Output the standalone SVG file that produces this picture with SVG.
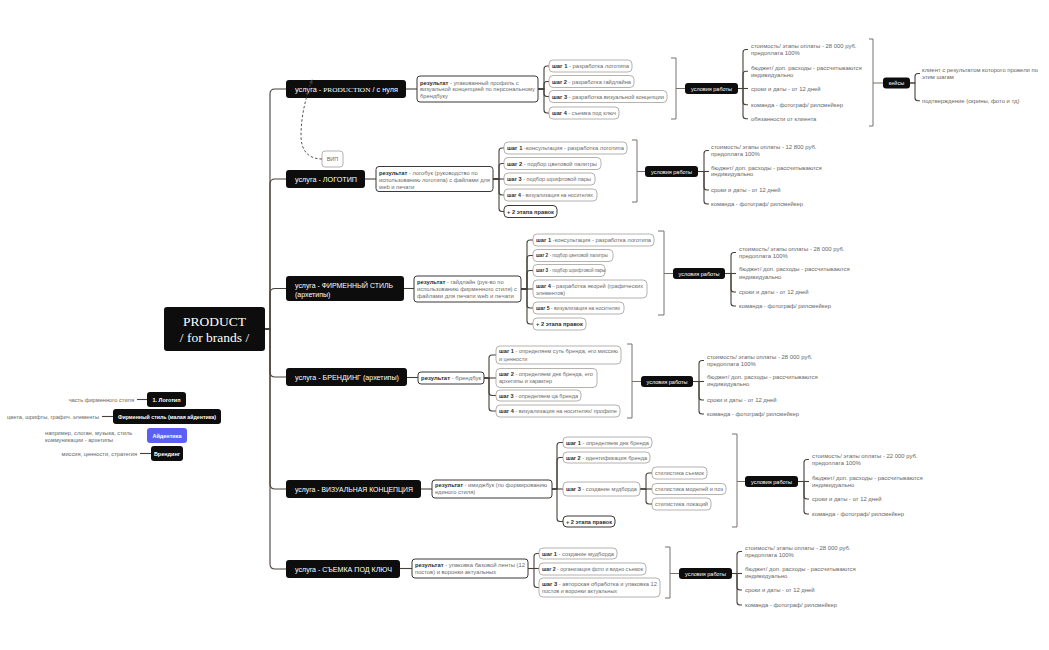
<svg xmlns="http://www.w3.org/2000/svg" width="1049" height="650" viewBox="0 0 1049 650">
<defs>
<style>
text{font-family:"Liberation Sans",Arial,sans-serif;}
.bg{fill:#ffffff;}
.dk rect{fill:#0d0d0d;}
.svc{fill:#ffffff;font-size:7px;}
.sf{font-family:"Liberation Serif","Times New Roman",serif;}
.res rect{fill:#ffffff;stroke:#3b3835;stroke-width:1;}
.stp rect{fill:#ffffff;stroke:#a39f9b;stroke-width:0.8;}
.t{font-size:5.5px;fill:#6a6a6a;}
.ts{font-size:4.6px;fill:#6a6a6a;}
.r{font-size:5.8px;fill:#6a6a6a;}
.c{font-size:5.9px;fill:#666666;}
.lg{font-size:5.7px;fill:#666666;}
.b{font-weight:bold;fill:#2e2e2e;}
.w{font-size:5.5px;fill:#ffffff;text-anchor:middle;}
.wb{font-size:5.5px;fill:#ffffff;text-anchor:middle;font-weight:bold;}
.ln{fill:none;stroke:#47413b;stroke-width:1.1;}
.br{fill:none;stroke:#77716b;stroke-width:1;}
.dash{fill:none;stroke:#47413b;stroke-width:0.9;stroke-dasharray:2.5,2;}
</style>
<marker id="arr" viewBox="0 0 6 6" refX="5" refY="3" markerWidth="5" markerHeight="5" orient="auto">
<path d="M0,0.5 L6,3 L0,5.5 Z" fill="#47413b"/>
</marker>
</defs>
<rect class="bg" x="0" y="0" width="1049" height="650"/>

<g id="connectors">
<path class="ln" d="M265,329 H270 V94 Q270,89 275,89 H286"/>
<path class="ln" d="M265,329 H270 V184 Q270,179 275,179 H286"/>
<path class="ln" d="M265,329 H270 V293.5 Q270,288.5 275,288.5 H286"/>
<path class="ln" d="M265,329 H270 V372 Q270,377 275,377 H286"/>
<path class="ln" d="M265,329 H270 V484 Q270,489 275,489 H286"/>
<path class="ln" d="M265,329 H270 V564 Q270,569 275,569 H286"/>
<path class="ln" d="M406,89 H417"/>
<path class="ln" d="M365,179 H376"/>
<path class="ln" d="M404,288.5 H414"/>
<path class="ln" d="M407,377.5 H418"/>
<path class="ln" d="M421,489 H432"/>
<path class="ln" d="M400,568.5 H412"/>
<path class="ln" d="M538,89 H544 V69 Q544,66 547,66 H549"/>
<path class="ln" d="M538,89 H544 V84.5 Q544,81.5 547,81.5 H549"/>
<path class="ln" d="M538,89 H544 V93.5 Q544,96.5 547,96.5 H549"/>
<path class="ln" d="M538,89 H544 V110 Q544,113 547,113 H549"/>
<path class="ln" d="M493,179 H499 V151 Q499,148 502,148 H504"/>
<path class="ln" d="M493,179 H499 V166.5 Q499,163.5 502,163.5 H504"/>
<path class="ln" d="M493,179 H504"/>
<path class="ln" d="M493,179 H499 V192 Q499,195 502,195 H504"/>
<path class="ln" d="M493,179 H499 V208.5 Q499,211.5 502,211.5 H504"/>
<path class="ln" d="M521,289 H527 V243 Q527,240 530,240 H533"/>
<path class="ln" d="M521,289 H527 V258.5 Q527,255.5 530,255.5 H533"/>
<path class="ln" d="M521,289 H527 V273.5 Q527,270.5 530,270.5 H533"/>
<path class="ln" d="M521,289 H533"/>
<path class="ln" d="M521,289 H527 V305 Q527,308 530,308 H533"/>
<path class="ln" d="M521,289 H527 V321 Q527,324 530,324 H533"/>
<path class="ln" d="M484,378 H489 V358 Q489,355 492,355 H496"/>
<path class="ln" d="M484,378 H496"/>
<path class="ln" d="M484,378 H489 V392.5 Q489,395.5 492,395.5 H496"/>
<path class="ln" d="M484,378 H489 V408 Q489,411 492,411 H496"/>
<path class="ln" d="M552,489 H557 V445.5 Q557,442.5 560,442.5 H563"/>
<path class="ln" d="M552,489 H557 V460.5 Q557,457.5 560,457.5 H563"/>
<path class="ln" d="M552,489 H563"/>
<path class="ln" d="M552,489 H557 V518.5 Q557,521.5 560,521.5 H563"/>
<path class="ln" d="M640,489 H646 V476 Q646,473 649,473 H652"/>
<path class="ln" d="M640,489 H652"/>
<path class="ln" d="M640,489 H646 V501 Q646,504 649,504 H652"/>
<path class="ln" d="M528,568.5 H534 V556.5 Q534,553.5 537,553.5 H539"/>
<path class="ln" d="M528,568.5 H539"/>
<path class="ln" d="M528,568.5 H534 V584.5 Q534,587.5 537,587.5 H539"/>
<path class="br" d="M671,58 H676 V119 H671 M676,88.5 H685"/>
<path class="br" d="M632,140 H637 V202 H632 M637,171.5 H645"/>
<path class="br" d="M658,231 H664 V315 H658 M664,273.5 H673"/>
<path class="br" d="M627,344 H632 V418 H627 M632,381.5 H641"/>
<path class="br" d="M732,434 H737 V527 H732 M737,481.5 H745"/>
<path class="br" d="M665,547 H670 V598 H665 M670,573.5 H679"/>
<path class="br" d="M869,39 H873 V126 H869 M873,83 H883"/>
<path class="ln" d="M738,88.5 H743 V52.5 Q743,49.5 746,49.5 H748"/>
<path class="ln" d="M738,88.5 H743 V74.3 Q743,71.3 746,71.3 H748"/>
<path class="ln" d="M738,88.5 H748"/>
<path class="ln" d="M738,88.5 H743 V101.7 Q743,104.7 746,104.7 H748"/>
<path class="ln" d="M738,88.5 H743 V115.7 Q743,118.7 746,118.7 H748"/>
<path class="ln" d="M910,83 H915 V76.5 Q915,73.5 918,73.5 H920"/>
<path class="ln" d="M910,83 H915 V97.7 Q915,100.7 918,100.7 H920"/>
<path class="ln" d="M698,171.5 H704 V153.5 Q704,150.5 707,150.5 H709"/>
<path class="ln" d="M698,171.5 H709"/>
<path class="ln" d="M698,171.5 H704 V187 Q704,190 707,190 H709"/>
<path class="ln" d="M698,171.5 H704 V201 Q704,204 707,204 H709"/>
<path class="ln" d="M725,273.5 H731 V255.5 Q731,252.5 734,252.5 H736"/>
<path class="ln" d="M725,273.5 H736"/>
<path class="ln" d="M725,273.5 H731 V289 Q731,292 734,292 H736"/>
<path class="ln" d="M725,273.5 H731 V303 Q731,306 734,306 H736"/>
<path class="ln" d="M693,381.5 H699 V363.5 Q699,360.5 702,360.5 H704"/>
<path class="ln" d="M693,381.5 H704"/>
<path class="ln" d="M693,381.5 H699 V397 Q699,400 702,400 H704"/>
<path class="ln" d="M693,381.5 H699 V411 Q699,414 702,414 H704"/>
<path class="ln" d="M798,481.5 H804 V462.5 Q804,459.5 807,459.5 H809"/>
<path class="ln" d="M798,481.5 H809"/>
<path class="ln" d="M798,481.5 H804 V496 Q804,499 807,499 H809"/>
<path class="ln" d="M798,481.5 H804 V511 Q804,514 807,514 H809"/>
<path class="ln" d="M732,573.5 H737 V554.5 Q737,551.5 740,551.5 H742"/>
<path class="ln" d="M732,573.5 H742"/>
<path class="ln" d="M732,573.5 H737 V587 Q737,590 740,590 H742"/>
<path class="ln" d="M732,573.5 H737 V602 Q737,605 740,605 H742"/>
<path class="ln" d="M137,399.5 H147"/>
<path class="ln" d="M102,416.5 H113"/>
<path class="ln" d="M140,453.5 H151"/>
</g>

<g id="root" class="dk">
<rect x="164" y="307" width="101" height="44" rx="3"/>
<text class="sf" x="214.5" y="326" fill="#fff" font-size="13.5" text-anchor="middle">PRODUCT</text>
<text class="sf" x="214.5" y="342" fill="#fff" font-size="13.5" text-anchor="middle">/ for brands /</text>
</g>

<g id="svc-production" class="dk">
<rect x="286" y="80" width="120" height="18" rx="3"/>
<text class="svc" x="295" y="91.5" textLength="103" lengthAdjust="spacingAndGlyphs">услуга - <tspan class="sf">PRODUCTION</tspan> / с нуля</text>
</g>
<g id="svc-logo" class="dk">
<rect x="286" y="170" width="79" height="18" rx="3"/>
<text class="svc" x="295" y="181.5" textLength="62" lengthAdjust="spacingAndGlyphs">услуга - ЛОГОТИП</text>
</g>
<g id="svc-style" class="dk">
<rect x="286" y="276" width="118" height="25" rx="3"/>
<text class="svc" x="295" y="288.3" textLength="98" lengthAdjust="spacingAndGlyphs">услуга - ФИРМЕННЫЙ СТИЛЬ</text>
<text class="svc" x="295" y="297">(архетипы)</text>
</g>
<g id="svc-branding" class="dk">
<rect x="286" y="368" width="121" height="18" rx="3"/>
<text class="svc" x="295" y="379.5" textLength="104" lengthAdjust="spacingAndGlyphs">услуга - БРЕНДИНГ (архетипы)</text>
</g>
<g id="svc-visual" class="dk">
<rect x="286" y="480" width="135" height="18" rx="3"/>
<text class="svc" x="295" y="491.5" textLength="118" lengthAdjust="spacingAndGlyphs">услуга - ВИЗУАЛЬНАЯ КОНЦЕПЦИЯ</text>
</g>
<g id="svc-shoot" class="dk">
<rect x="286" y="560" width="114" height="18" rx="3"/>
<text class="svc" x="295" y="571.5" textLength="97" lengthAdjust="spacingAndGlyphs">услуга - СЪЕМКА ПОД КЛЮЧ</text>
</g>

<g id="vip" class="stp">
<rect x="322" y="151" width="21" height="16" rx="3"/>
<text class="t" x="332.5" y="161" text-anchor="middle">ВИП</text>
</g>
<path id="vip-link" class="dash" d="M322,159 C308,159 301,150 301,136 C301,115 306,97 312,80" marker-end="url(#arr)"/>

<g id="res-production" class="res">
<rect x="417" y="76" width="121" height="26" rx="3"/>
<text class="r" x="420" y="84.5"><tspan class="b">результат</tspan> - упакованный профиль с</text>
<text class="r" x="420" y="91.3" textLength="115" lengthAdjust="spacingAndGlyphs">визуальной концепцией по персональному</text>
<text class="r" x="420" y="98.1">брендбуку</text>
</g>
<g id="res-logo" class="res">
<rect x="376" y="166.5" width="117" height="25" rx="3"/>
<text class="r" x="379" y="174.5"><tspan class="b">результат</tspan> - логобук (руководство по</text>
<text class="r" x="379" y="181.5" textLength="111" lengthAdjust="spacingAndGlyphs">использованию логотипа) с файлами для</text>
<text class="r" x="379" y="188.5">web и печати</text>
</g>
<g id="res-style" class="res">
<rect x="414" y="276" width="107" height="26" rx="3"/>
<text class="r" x="417" y="283.7"><tspan class="b">результат</tspan> - гайдлайн (рук-во по</text>
<text class="r" x="417" y="290.7" textLength="100" lengthAdjust="spacingAndGlyphs">использованию фирменного стиля) с</text>
<text class="r" x="417" y="297.7" textLength="97" lengthAdjust="spacingAndGlyphs">файлами для печати web и печати</text>
</g>
<g id="res-branding" class="res">
<rect x="418" y="372" width="66" height="12" rx="3"/>
<text class="r" x="421" y="380" textLength="60" lengthAdjust="spacingAndGlyphs"><tspan class="b">результат</tspan> - брендбук</text>
</g>
<g id="res-visual" class="res">
<rect x="432" y="480" width="120" height="18" rx="3"/>
<text class="r" x="435" y="487" textLength="112" lengthAdjust="spacingAndGlyphs"><tspan class="b">результат</tspan> - имиджбук (по формированию</text>
<text class="r" x="435" y="494">единого стиля)</text>
</g>
<g id="res-shoot" class="res">
<rect x="412" y="559" width="116" height="19" rx="3"/>
<text class="r" x="415" y="566.5" textLength="110" lengthAdjust="spacingAndGlyphs"><tspan class="b">результат</tspan> - упаковка базовой ленты (12</text>
<text class="r" x="415" y="573.5">постов) и воронки актуальных</text>
</g>

<g id="p-s1" class="stp"><rect x="549" y="60" width="83" height="12" rx="4"/><text class="t" x="552" y="68" textLength="77" lengthAdjust="spacingAndGlyphs"><tspan class="b">шаг 1</tspan> - разработка логотипа</text></g>
<g id="p-s2" class="stp"><rect x="549" y="75.5" width="85" height="12" rx="4"/><text class="t" x="552" y="83.5" textLength="79" lengthAdjust="spacingAndGlyphs"><tspan class="b">шаг 2</tspan> - разработка гайдлайна</text></g>
<g id="p-s3" class="stp"><rect x="549" y="90.5" width="118" height="12" rx="4"/><text class="t" x="552" y="98.5" textLength="112" lengthAdjust="spacingAndGlyphs"><tspan class="b">шаг 3</tspan> - разработка визуальной концепции</text></g>
<g id="p-s4" class="stp"><rect x="549" y="107" width="70" height="12" rx="4"/><text class="t" x="552" y="115" textLength="64" lengthAdjust="spacingAndGlyphs"><tspan class="b">шаг 4</tspan> - съемка под ключ</text></g>

<g id="p-cond" class="dk"><rect x="685" y="83" width="53" height="11" rx="3"/><text class="w" x="711.5" y="90.5">условия работы</text></g>
<g id="p-cond-items">
<text class="c" x="751" y="48">стоимость/ этапы оплаты - 28 000 руб.</text>
<text class="c" x="751" y="55.3">предоплата 100%</text>
<text class="c" x="751" y="70.3">бюджет/ доп. расходы - рассчитываются</text>
<text class="c" x="751" y="76.5">индивидуально</text>
<text class="c" x="751" y="91">сроки и даты - от 12 дней</text>
<text class="c" x="751" y="106.7">команда - фотограф/ рилсмейкер</text>
<text class="c" x="751" y="120.7">обязанности от клиента</text>
</g>
<g id="cases" class="dk"><rect x="883" y="77.5" width="27" height="11" rx="3"/><text class="w" x="896.5" y="85">кейсы</text></g>
<g id="cases-items">
<text class="c" x="922" y="72">клиент с результатом которого провели по</text>
<text class="c" x="922" y="79">этим шагам</text>
<text class="c" x="922" y="102.7">подтверждение (скрины, фото и тд)</text>
</g>

<g id="l-s1" class="stp"><rect x="504" y="142" width="123" height="12" rx="4"/><text class="t" x="507" y="150" textLength="117" lengthAdjust="spacingAndGlyphs"><tspan class="b">шаг 1</tspan> -консультация - разработка логотипа</text></g>
<g id="l-s2" class="stp"><rect x="504" y="157.5" width="97" height="12" rx="4"/><text class="t" x="507" y="165.5" textLength="90" lengthAdjust="spacingAndGlyphs"><tspan class="b">шаг 2</tspan> - подбор цветовой палитры</text></g>
<g id="l-s3" class="stp"><rect x="504" y="173" width="91" height="12" rx="4"/><text class="t" x="507" y="181" textLength="84" lengthAdjust="spacingAndGlyphs"><tspan class="b">шаг 3</tspan> - подбор шрифтовой пары</text></g>
<g id="l-s4" class="stp"><rect x="504" y="189" width="93" height="12" rx="4"/><text class="t" x="507" y="197" textLength="86" lengthAdjust="spacingAndGlyphs"><tspan class="b">шаг 4</tspan> - визуализация на носителях</text></g>
<g id="l-s5" class="res"><rect x="504" y="205.5" width="53" height="12" rx="4"/><text class="t b" x="507" y="213.5" textLength="47" lengthAdjust="spacingAndGlyphs">+ 2 этапа правок</text></g>

<g id="l-cond" class="dk"><rect x="645" y="166" width="53" height="11" rx="3"/><text class="w" x="671.5" y="173.5">условия работы</text></g>
<g id="l-cond-items">
<text class="c" x="711" y="149">стоимость/ этапы оплаты - 12 800 руб.</text>
<text class="c" x="711" y="156">предоплата 100%</text>
<text class="c" x="711" y="170">бюджет/ доп. расходы - рассчитываются</text>
<text class="c" x="711" y="176.3">индивидуально</text>
<text class="c" x="711" y="192">сроки и даты - от 12 дней</text>
<text class="c" x="711" y="206">команда - фотограф/ рилсмейкер</text>
</g>

<g id="s-s1" class="stp"><rect x="533" y="234" width="121" height="12" rx="4"/><text class="t" x="536" y="242" textLength="115" lengthAdjust="spacingAndGlyphs"><tspan class="b">шаг 1</tspan> -консультация - разработка логотипа</text></g>
<g id="s-s2" class="stp"><rect x="533" y="249.5" width="80" height="12" rx="4"/><text class="ts" x="536" y="257.2"><tspan class="b">шаг 2</tspan> - подбор цветовой палитры</text></g>
<g id="s-s3" class="stp"><rect x="533" y="264.5" width="72" height="12" rx="4"/><text class="ts" x="536" y="272.2"><tspan class="b">шаг 3</tspan> - подбор шрифтовой пары</text></g>
<g id="s-s4" class="stp"><rect x="533" y="280" width="114" height="18" rx="4"/><text class="t" x="536" y="288" textLength="107" lengthAdjust="spacingAndGlyphs"><tspan class="b">шаг 4</tspan> - разработка якорей (графических</text><text class="t" x="536" y="294.7">элементов)</text></g>
<g id="s-s5" class="stp"><rect x="533" y="302" width="91" height="12" rx="4"/><text class="t" x="536" y="310" textLength="84" lengthAdjust="spacingAndGlyphs"><tspan class="b">шаг 5</tspan> - визуализация на носителях</text></g>
<g id="s-s6" class="stp"><rect x="533" y="318" width="53" height="12" rx="4"/><text class="t b" x="536" y="326" textLength="47" lengthAdjust="spacingAndGlyphs">+ 2 этапа правок</text></g>

<g id="s-cond" class="dk"><rect x="673" y="268" width="52" height="11" rx="3"/><text class="w" x="699" y="275.5">условия работы</text></g>
<g id="s-cond-items">
<text class="c" x="739" y="251">стоимость/ этапы оплаты - 28 000 руб.</text>
<text class="c" x="739" y="258">предоплата 100%</text>
<text class="c" x="739" y="271">бюджет/ доп. расходы - рассчитываются</text>
<text class="c" x="739" y="279">индивидуально</text>
<text class="c" x="739" y="294">сроки и даты - от 12 дней</text>
<text class="c" x="739" y="308">команда - фотограф/ рилсмейкер</text>
</g>

<g id="b-s1" class="stp"><rect x="496" y="346" width="125" height="18" rx="4"/><text class="t" x="499" y="353" textLength="119" lengthAdjust="spacingAndGlyphs"><tspan class="b">шаг 1</tspan> - определяем суть бренда, его миссию</text><text class="t" x="499" y="360.5">и ценности</text></g>
<g id="b-s2" class="stp"><rect x="496" y="368.5" width="101" height="19" rx="4"/><text class="t" x="499" y="376" textLength="94" lengthAdjust="spacingAndGlyphs"><tspan class="b">шаг 2</tspan> - определяем днк бренда, его</text><text class="t" x="499" y="383.3">архетипы и характер</text></g>
<g id="b-s3" class="stp"><rect x="496" y="390" width="85" height="11" rx="4"/><text class="t" x="499" y="397.5" textLength="79" lengthAdjust="spacingAndGlyphs"><tspan class="b">шаг 3</tspan> - определяем ца бренда</text></g>
<g id="b-s4" class="stp"><rect x="496" y="405" width="124" height="12" rx="4"/><text class="t" x="499" y="413" textLength="118" lengthAdjust="spacingAndGlyphs"><tspan class="b">шаг 4</tspan> - визуализация на носителях/ профиле</text></g>

<g id="b-cond" class="dk"><rect x="641" y="376" width="52" height="11" rx="3"/><text class="w" x="667" y="383.5">условия работы</text></g>
<g id="b-cond-items">
<text class="c" x="707" y="359">стоимость/ этапы оплаты - 28 000 руб.</text>
<text class="c" x="707" y="366">предоплата 100%</text>
<text class="c" x="707" y="379">бюджет/ доп. расходы - рассчитываются</text>
<text class="c" x="707" y="386">индивидуально</text>
<text class="c" x="707" y="402">сроки и даты - от 12 дней</text>
<text class="c" x="707" y="416">команда - фотограф/ рилсмейкер</text>
</g>

<g id="v-s1" class="stp"><rect x="563" y="437" width="89" height="11" rx="4"/><text class="t" x="566" y="444.5" textLength="83" lengthAdjust="spacingAndGlyphs"><tspan class="b">шаг 1</tspan> - определяем днк бренда</text></g>
<g id="v-s2" class="stp"><rect x="563" y="452" width="87" height="11" rx="4"/><text class="t" x="566" y="459.5" textLength="81" lengthAdjust="spacingAndGlyphs"><tspan class="b">шаг 2</tspan> - идентификация бренда</text></g>
<g id="v-s3" class="stp"><rect x="563" y="482" width="77" height="14" rx="4"/><text class="t" x="566" y="491" textLength="71" lengthAdjust="spacingAndGlyphs"><tspan class="b">шаг 3</tspan> - создание мудборда</text></g>
<g id="v-s4" class="res"><rect x="563" y="516" width="52" height="11" rx="4"/><text class="t b" x="566" y="523.5" textLength="46" lengthAdjust="spacingAndGlyphs">+ 2 этапа правок</text></g>
<g id="v-m1" class="stp"><rect x="652" y="467" width="55" height="12" rx="4"/><text class="t" x="655" y="475" textLength="49" lengthAdjust="spacingAndGlyphs">стилистика съемок</text></g>
<g id="v-m2" class="stp"><rect x="652" y="483.5" width="74" height="11" rx="4"/><text class="t" x="655" y="491" textLength="68" lengthAdjust="spacingAndGlyphs">стилистика моделей и поз</text></g>
<g id="v-m3" class="stp"><rect x="652" y="498" width="59" height="12" rx="4"/><text class="t" x="655" y="506" textLength="53" lengthAdjust="spacingAndGlyphs">стилистика локаций</text></g>

<g id="v-cond" class="dk"><rect x="745" y="476" width="53" height="11" rx="3"/><text class="w" x="771.5" y="483.5">условия работы</text></g>
<g id="v-cond-items">
<text class="c" x="812" y="458">стоимость/ этапы оплаты - 22 000 руб.</text>
<text class="c" x="812" y="465">предоплата 100%</text>
<text class="c" x="812" y="480">бюджет/ доп. расходы - рассчитываются</text>
<text class="c" x="812" y="487">индивидуально</text>
<text class="c" x="812" y="501">сроки и даты - от 12 дней</text>
<text class="c" x="812" y="516">команда - фотограф/ рилсмейкер</text>
</g>

<g id="h-s1" class="stp"><rect x="539" y="548" width="78" height="11" rx="4"/><text class="t" x="542" y="555.5" textLength="72" lengthAdjust="spacingAndGlyphs"><tspan class="b">шаг 1</tspan> - создание мудборда</text></g>
<g id="h-s2" class="stp"><rect x="539" y="563" width="107" height="12" rx="4"/><text class="t" x="542" y="571" textLength="101" lengthAdjust="spacingAndGlyphs"><tspan class="b">шаг 2</tspan> - организация фото и видео съемок</text></g>
<g id="h-s3" class="stp"><rect x="539" y="578" width="121" height="19" rx="4"/><text class="t" x="542" y="586.3" textLength="115" lengthAdjust="spacingAndGlyphs"><tspan class="b">шаг 3</tspan> - авторская обработка и упаковка 12</text><text class="t" x="542" y="593">постов и воронки актуальных</text></g>

<g id="h-cond" class="dk"><rect x="679" y="568" width="53" height="11" rx="3"/><text class="w" x="705.5" y="575.5">условия работы</text></g>
<g id="h-cond-items">
<text class="c" x="745" y="550">стоимость/ этапы оплаты - 28 000 руб.</text>
<text class="c" x="745" y="557">предоплата 100%</text>
<text class="c" x="745" y="571">бюджет/ доп. расходы - рассчитываются</text>
<text class="c" x="745" y="578">индивидуально</text>
<text class="c" x="745" y="592">сроки и даты - от 12 дней</text>
<text class="c" x="745" y="607">команда - фотограф/ рилсмейкер</text>
</g>

<g id="legend-logo" class="dk">
<text class="lg" x="134" y="401.5" text-anchor="end">часть фирменного стиля</text>
<rect x="147" y="392" width="39" height="15" rx="3"/>
<text class="wb" x="166.5" y="401.5">1. Логотип</text>
</g>
<g id="legend-style" class="dk">
<text class="lg" x="99" y="418.5" text-anchor="end">цвета, шрифты, графич. элементы</text>
<rect x="113" y="409" width="108" height="15" rx="3"/>
<text class="wb" x="167" y="418.5" textLength="98" lengthAdjust="spacingAndGlyphs">Фирменный стиль (малая айдентика)</text>
</g>
<g id="legend-identity">
<text class="lg" x="45" y="435">например, слоган, музыка, стиль</text>
<text class="lg" x="45" y="441.5">коммуникации - архетипы</text>
<rect x="147" y="428" width="40" height="15" rx="3" fill="#5b5ff2"/>
<text class="wb" x="167" y="437.5">Айдентика</text>
</g>
<g id="legend-branding" class="dk">
<text class="lg" x="137" y="455.5" text-anchor="end">миссия, ценности, стратегия</text>
<rect x="151" y="446" width="32" height="15" rx="3"/>
<text class="wb" x="167" y="455.5">Брендинг</text>
</g>
</svg>
